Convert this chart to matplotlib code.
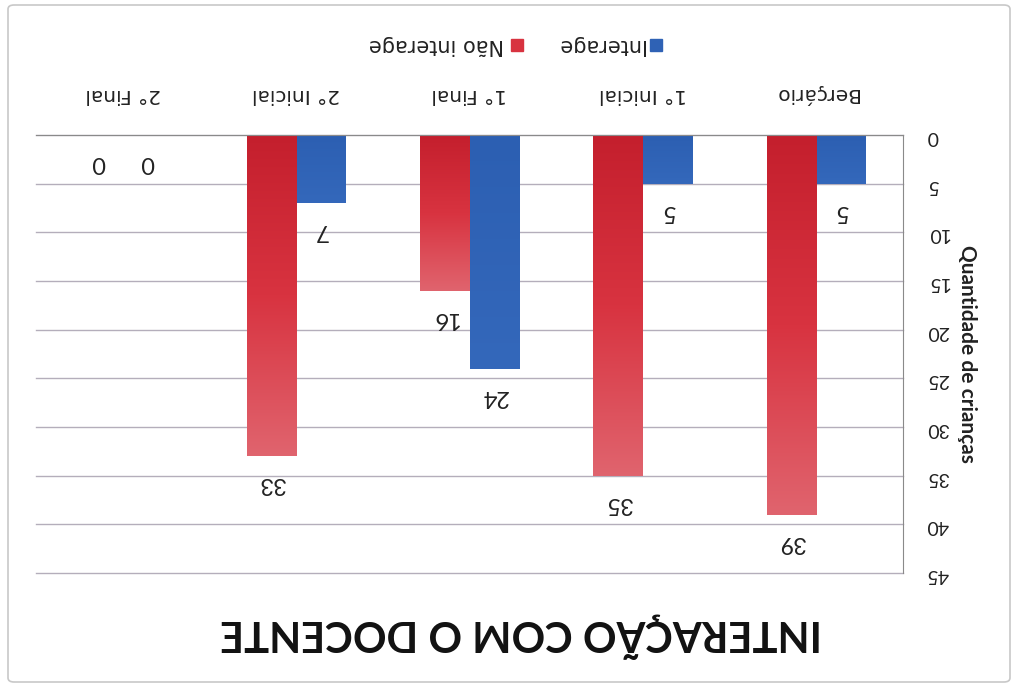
import numpy as np
import matplotlib
matplotlib.use("Agg")
import matplotlib.pyplot as plt
from matplotlib.patches import Rectangle, FancyBboxPatch
from matplotlib.colors import LinearSegmentedColormap

categories = ["Berçário", "1° Inicial", "1° Final", "2° Inicial", "2° Final"]
interage = [5, 5, 24, 7, 0]
nao_interage = [39, 35, 16, 33, 0]
series_names = ["Interage", "Não interage"]
yticks = [0, 5, 10, 15, 20, 25, 30, 35, 40, 45]
title = "INTERAÇÃO COM O DOCENTE"
ylabel = "Quantidade de crianças"

W, H = 1016, 687
fig = plt.figure(figsize=(W / 100, H / 100), dpi=100)
fig.patch.set_facecolor("white")

# outer frame
fig.add_artist(FancyBboxPatch((8 / W, 5 / H), 1002 / W, 677 / H,
                              boxstyle="round,pad=0,rounding_size=0.006",
                              transform=fig.transFigure, fill=False,
                              edgecolor="#c8c8c8", lw=1.2))

ax = fig.add_axes([36 / W, 114 / H, 867 / W, 438 / H])
x = np.arange(len(categories))
bw = 0.285
bars_b = ax.bar(x - bw / 2, interage, bw, color="#2f62b5", zorder=2)
bars_r = ax.bar(x + bw / 2, nao_interage, bw, color="#d02a36", zorder=2)

red_cmap = LinearSegmentedColormap.from_list("r", ["#c41f2d", "#d83340", "#e0646e"])
blue_cmap = LinearSegmentedColormap.from_list("b", ["#2c5fb2", "#3468bb"])
grad = np.linspace(0, 1, 256).reshape(-1, 1)
for bars, cmap in ((bars_b, blue_cmap), (bars_r, red_cmap)):
    for p in bars:
        h = p.get_height()
        if h <= 0:
            continue
        x0 = p.get_x()
        im = ax.imshow(grad, cmap=cmap, aspect="auto", origin="lower",
                       extent=[x0, x0 + p.get_width(), 0, h], zorder=2.5)
        im.set_clip_path(p)
        p.set_facecolor("none")

ax.set_xlim(-0.5, len(categories) - 0.5)
ax.set_ylim(0, 45)
ax.invert_xaxis()
ax.invert_yaxis()

ax.set_yticks(yticks)
ax.yaxis.tick_right()
ax.yaxis.set_label_position("right")
ax.set_yticklabels([str(t) for t in yticks], rotation=180,
                   fontfamily="Lato", fontsize=14, color="#222222")
ax.tick_params(axis="y", length=0, pad=17)

ax.set_xticks(x)
ax.xaxis.tick_top()
ax.set_xticklabels(categories, rotation=180, fontfamily="DejaVu Sans",
                   fontsize=14.5, color="#222222")
ax.tick_params(axis="x", length=0, pad=22)

ax.set_ylabel(ylabel, rotation=270, fontfamily="Lato", fontweight="bold",
              fontsize=15, color="#222222", labelpad=20)

ax.grid(axis="y", color="#b4aebb", lw=1.0, zorder=0)
for gl in ax.get_ygridlines():
    gl.set_clip_on(False)
for s in ("left", "bottom"):
    ax.spines[s].set_visible(False)
ax.spines["right"].set_color("#8a8a8a")
ax.spines["top"].set_color("#8a8a8a")

# data labels
for bars, vals in ((bars_b, interage), (bars_r, nao_interage)):
    for p, v in zip(bars, vals):
        ax.annotate(str(v), (p.get_x() + p.get_width() / 2, v),
                    xytext=(0, -20), textcoords="offset points",
                    ha="center", va="center", rotation=180,
                    fontfamily="Lato", fontsize=17, color="#222222")

# legend (rotated 180)
ly = (H - 45) / H
fig.add_artist(Rectangle((650 / W, (H - 51) / H), 12 / W, 12 / H,
                         transform=fig.transFigure, color="#2f62b5"))
fig.text(644 / W, ly, series_names[0], rotation=180,
         ha="right", va="center", fontfamily="DejaVu Sans", fontsize=15,
         color="#222222")
fig.add_artist(Rectangle((511 / W, (H - 51) / H), 12 / W, 12 / H,
                         transform=fig.transFigure, color="#d83340"))
fig.text(504 / W, ly, series_names[1], rotation=180,
         ha="right", va="center", fontfamily="DejaVu Sans", fontsize=15,
         color="#222222")

fig.text(521 / W, (H - 636) / H, title, rotation=180, ha="center", va="center",
         fontfamily="Lato", fontweight="bold", fontsize=30, color="#111111")

fig.savefig("out.png", dpi=100)
